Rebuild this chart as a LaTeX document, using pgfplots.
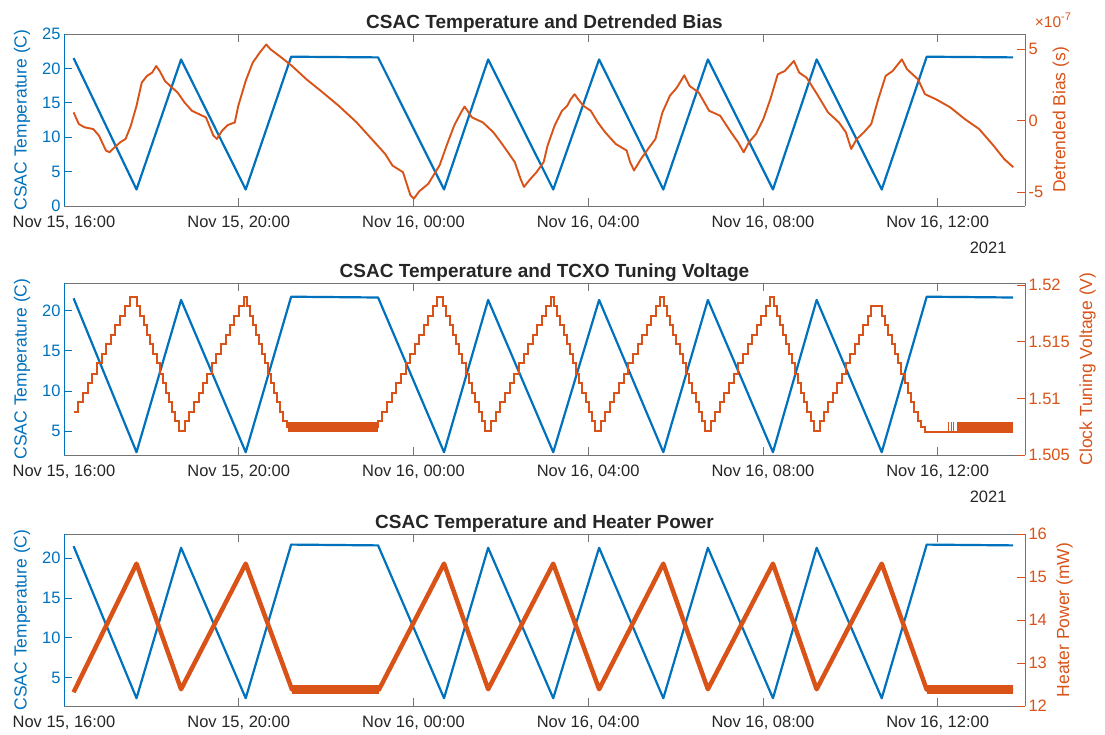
\documentclass[border=0pt]{standalone}
\usepackage{pgfplots}
\pgfplotsset{compat=1.18}
\usepackage{pgfplotstable}
\usepackage{fontspec}
\setmainfont{Liberation Sans}
\definecolor{mblue}{RGB}{0,114,189}
\definecolor{morange}{RGB}{217,83,25}
\definecolor{axgray}{RGB}{115,115,115}
\definecolor{txt}{RGB}{38,38,38}

% CSAC temperature (hours since Nov 15 00:00, deg C)
\pgfplotstableread{
h T
16.22 21.5
17.66 2.4
18.68 21.3
20.16 2.4
21.20 21.7
23.19 21.6
24.70 2.4
25.71 21.3
27.20 2.4
28.25 21.3
29.72 2.4
30.74 21.3
32.23 2.4
33.23 21.3
34.72 2.4
35.75 21.7
37.73 21.6
}\temptable

% Detrended bias (units of 1e-7 s)
\pgfplotstableread{
h b
16.22 0.58
16.34 -0.23
16.47 -0.46
16.67 -0.58
16.80 -1.04
16.96 -2.08
17.04 -2.20
17.16 -1.85
17.29 -1.50
17.41 -1.27
17.53 -0.35
17.66 1.04
17.78 2.66
17.90 3.13
18.02 3.36
18.11 3.82
18.19 3.47
18.31 2.78
18.43 2.43
18.60 1.97
18.76 1.27
18.93 0.69
19.09 0.46
19.25 0.23
19.42 -1.04
19.50 -1.27
19.62 -0.69
19.75 -0.30
19.91 -0.12
19.99 1.04
20.16 2.78
20.32 4.05
20.48 4.75
20.63 5.32
20.73 4.98
20.98 4.40
21.22 3.82
21.55 2.89
21.88 2.08
22.29 1.04
22.70 -0.12
23.11 -1.50
23.35 -2.31
23.52 -3.13
23.76 -3.59
23.93 -5.20
24.01 -5.44
24.13 -4.93
24.34 -4.40
24.60 -3.10
24.76 -1.73
24.93 -0.35
25.09 0.58
25.17 0.99
25.34 0.23
25.59 -0.12
25.83 -0.81
26.00 -1.50
26.16 -2.19
26.32 -2.89
26.45 -4.04
26.53 -4.62
26.65 -4.16
26.82 -3.58
26.98 -2.89
27.07 -1.74
27.23 -0.35
27.40 0.69
27.52 1.04
27.60 1.50
27.69 1.85
27.77 1.50
27.89 1.04
28.06 0.69
28.22 -0.12
28.39 -0.81
28.63 -1.62
28.88 -2.08
28.96 -2.89
29.05 -3.47
29.21 -2.66
29.37 -1.97
29.54 -1.27
29.70 0.58
29.87 1.74
30.03 2.31
30.20 3.17
30.32 2.43
30.53 1.97
30.77 0.69
31.02 0.35
31.27 -0.81
31.43 -1.50
31.56 -2.20
31.68 -1.50
31.84 -0.93
32.01 0.12
32.17 1.50
32.34 3.24
32.50 3.47
32.71 4.17
32.83 3.36
33.00 3.00
33.24 1.85
33.49 0.58
33.74 -0.12
33.90 -0.81
34.02 -1.97
34.15 -1.27
34.31 -0.81
34.48 -0.23
34.64 1.50
34.81 3.13
34.97 3.47
35.18 4.28
35.30 3.59
35.55 2.89
35.71 1.85
35.96 1.50
36.29 0.93
36.62 0.12
36.95 -0.58
37.28 -1.74
37.52 -2.66
37.73 -3.24
}\biastable

% TCXO tuning voltage (V), stepwise
\pgfplotstableread{
h v
16.22 1.5088
16.33 1.5097
16.43 1.5105
16.54 1.5114
16.64 1.5122
16.75 1.5131
16.86 1.5139
16.96 1.5148
17.07 1.5156
17.17 1.5165
17.28 1.5173
17.39 1.5182
17.52 1.5190
17.68 1.5182
17.75 1.5173
17.83 1.5165
17.90 1.5156
17.97 1.5148
18.04 1.5139
18.12 1.5131
18.19 1.5122
18.26 1.5114
18.34 1.5105
18.41 1.5097
18.48 1.5088
18.55 1.5080
18.63 1.5071
18.77 1.5080
18.87 1.5088
18.97 1.5097
19.08 1.5105
19.18 1.5114
19.28 1.5122
19.39 1.5131
19.49 1.5139
19.59 1.5148
19.70 1.5156
19.80 1.5165
19.90 1.5173
20.01 1.5182
20.11 1.5190
20.18 1.5182
20.25 1.5173
20.32 1.5165
20.39 1.5156
20.46 1.5148
20.53 1.5139
20.60 1.5131
20.67 1.5122
20.74 1.5114
20.81 1.5105
20.88 1.5097
20.95 1.5088
21.02 1.5080
21.10 1.5075
23.19 1.5080
23.29 1.5088
23.40 1.5097
23.50 1.5105
23.61 1.5114
23.71 1.5122
23.82 1.5131
23.92 1.5139
24.03 1.5148
24.13 1.5156
24.24 1.5165
24.34 1.5173
24.45 1.5182
24.55 1.5190
24.68 1.5182
24.75 1.5173
24.83 1.5165
24.90 1.5156
24.97 1.5148
25.05 1.5139
25.12 1.5131
25.20 1.5122
25.27 1.5114
25.34 1.5105
25.42 1.5097
25.49 1.5088
25.56 1.5080
25.64 1.5071
25.78 1.5080
25.89 1.5088
25.99 1.5097
26.10 1.5105
26.20 1.5114
26.31 1.5122
26.41 1.5131
26.52 1.5139
26.62 1.5148
26.73 1.5156
26.83 1.5165
26.94 1.5173
27.04 1.5182
27.15 1.5190
27.22 1.5182
27.29 1.5173
27.36 1.5165
27.44 1.5156
27.51 1.5148
27.58 1.5139
27.65 1.5131
27.72 1.5122
27.79 1.5114
27.86 1.5105
27.94 1.5097
28.01 1.5088
28.08 1.5080
28.15 1.5071
28.29 1.5080
28.39 1.5088
28.50 1.5097
28.60 1.5105
28.71 1.5114
28.81 1.5122
28.92 1.5131
29.02 1.5139
29.13 1.5148
29.23 1.5156
29.34 1.5165
29.44 1.5173
29.55 1.5182
29.65 1.5190
29.74 1.5182
29.81 1.5173
29.88 1.5165
29.95 1.5156
30.02 1.5148
30.10 1.5139
30.17 1.5131
30.24 1.5122
30.31 1.5114
30.38 1.5105
30.46 1.5097
30.53 1.5088
30.60 1.5080
30.67 1.5071
30.81 1.5080
30.91 1.5088
31.02 1.5097
31.12 1.5105
31.23 1.5114
31.33 1.5122
31.44 1.5131
31.54 1.5139
31.65 1.5148
31.75 1.5156
31.86 1.5165
31.96 1.5173
32.07 1.5182
32.17 1.5190
32.25 1.5182
32.32 1.5173
32.39 1.5165
32.46 1.5156
32.53 1.5148
32.60 1.5139
32.67 1.5131
32.74 1.5122
32.81 1.5114
32.88 1.5105
32.95 1.5097
33.02 1.5088
33.09 1.5080
33.16 1.5071
33.30 1.5080
33.40 1.5088
33.50 1.5097
33.60 1.5105
33.70 1.5114
33.80 1.5122
33.90 1.5131
34.00 1.5139
34.10 1.5148
34.20 1.5156
34.30 1.5165
34.40 1.5173
34.48 1.5182
34.72 1.5173
34.80 1.5165
34.87 1.5156
34.95 1.5148
35.02 1.5139
35.10 1.5131
35.17 1.5122
35.25 1.5114
35.32 1.5105
35.40 1.5097
35.47 1.5088
35.55 1.5080
35.62 1.5075
35.70 1.5070
37.73 1.5070
}\volttable

% Heater power (mW)
\pgfplotstableread{
h p
16.22 12.32
17.66 15.31
18.68 12.39
20.16 15.31
21.22 12.38
23.21 12.38
24.70 15.31
25.71 12.39
27.20 15.31
28.25 12.39
29.72 15.31
30.74 12.39
32.23 15.31
33.23 12.39
34.72 15.31
35.75 12.38
37.73 12.38
}\powertable

\pgfplotsset{
  base/.style={
    width=961pt, height=172pt, scale only axis,
    xmin=16, xmax=38,
    xtick={16,20,24,28,32,36},
    xticklabels={{Nov 15, 16:00},{Nov 15, 20:00},{Nov 16, 00:00},{Nov 16, 04:00},{Nov 16, 08:00},{Nov 16, 12:00}},
    tick align=inside,
    major tick length=8pt,
    /pgf/number format/assume math mode=true,
    tick label style={font=\fontsize{16.5}{19}\selectfont},
    scaled y ticks=false,
    clip mode=individual,
  },
  leftax/.style={base,
    separate axis lines,
    axis x line*=box,
    axis y line*=left,
    x axis line style={axgray, line width=1pt},
    y axis line style={mblue, line width=1pt},
    xtick style={axgray, line width=0.8pt},
    ytick style={mblue, line width=0.8pt},
    xticklabel style={text=txt, yshift=-6pt},
    yticklabel style={text=mblue},
    every axis y label/.style={at={(axis description cs:-0.0437,0.5)}, anchor=center, rotate=90,
      font=\fontsize{17.5}{20}\selectfont, text=mblue},
    every axis title/.style={at={(axis description cs:0.5,1)}, anchor=base, yshift=6pt,
      font=\fontsize{19}{22}\selectfont\bfseries, text=txt},
    ylabel={CSAC Temperature (C)},
  },
  rightax/.style={base,
    separate axis lines,
    axis x line=none,
    axis y line*=right,
    y axis line style={morange, line width=1pt},
    ytick style={morange, line width=0.8pt},
    yticklabel style={text=morange},
    every axis y label/.style={at={(ticklabel cs:0.5)}, anchor=near ticklabel, rotate=90,
      inner sep=6pt, font=\fontsize{17.5}{20}\selectfont, text=morange},
  },
}

\begin{document}
\begin{tikzpicture}
\useasboundingbox (0,0) rectangle (1105pt,-734pt);

% ---------------- Panel 1 ----------------
\begin{axis}[leftax, at={(64pt,-206pt)}, anchor=south west,
  ymin=0, ymax=25, ytick={0,5,10,15,20,25},
  title={CSAC Temperature and Detrended Bias}]
\addplot[mblue, line width=2.2pt, line join=round] table[x=h,y=T]{\temptable};
\node[anchor=base east, yshift=-47pt, font=\fontsize{16.5}{19}\selectfont, text=txt] at (rel axis cs:0.9844,0) {2021};
\end{axis}
\begin{axis}[rightax, at={(64pt,-206pt)}, anchor=south west,
  ymin=-5.95, ymax=6.05, ytick={-5,0,5},
  ylabel={Detrended Bias (s)}]
\addplot[morange, line width=1.9pt, line join=round] table[x=h,y=b]{\biastable};
\node[anchor=center, font=\fontsize{15.5}{18}\selectfont, text=morange] at (rel axis cs:1.029,1.08) {×10\raisebox{0.45em}{\fontsize{11}{12}\selectfont -7}};
\end{axis}

% ---------------- Panel 2 ----------------
\begin{axis}[leftax, at={(64pt,-455pt)}, anchor=south west,
  ymin=2.05, ymax=23.4, ytick={5,10,15,20},
  title={CSAC Temperature and TCXO Tuning Voltage}]
\addplot[mblue, line width=2.2pt, line join=round] table[x=h,y=T]{\temptable};
\node[anchor=base east, yshift=-47pt, font=\fontsize{16.5}{19}\selectfont, text=txt] at (rel axis cs:0.9844,0) {2021};
\end{axis}
\begin{axis}[rightax, at={(64pt,-455pt)}, anchor=south west,
  ymin=1.505, ymax=1.5202, ytick={1.505,1.51,1.515,1.52},
  yticklabel style={/pgf/number format/.cd, fixed, precision=3},
  ylabel={Clock Tuning Voltage (V)}]
\addplot[morange, line width=2pt, const plot] table[x=h,y=v]{\volttable};
\addplot[morange, line width=10pt] coordinates {(21.12,1.50745) (23.19,1.50745)};
\addplot[morange, line width=10pt] coordinates {(36.45,1.50745) (37.73,1.50745)};
\addplot[morange, line width=1.2pt, unbounded coords=jump] coordinates {
  (36.24,1.5070) (36.24,1.5079) (36.24,nan)
  (36.31,1.5070) (36.31,1.5079) (36.31,nan)
  (36.37,1.5070) (36.37,1.5079)};
\end{axis}

% ---------------- Panel 3 ----------------
\begin{axis}[leftax, at={(64pt,-706pt)}, anchor=south west,
  ymin=1.42, ymax=23.03, ytick={5,10,15,20},
  title={CSAC Temperature and Heater Power}]
\addplot[mblue, line width=2.2pt, line join=round] table[x=h,y=T]{\temptable};
\end{axis}
\begin{axis}[rightax, at={(64pt,-706pt)}, anchor=south west,
  ymin=12, ymax=16, ytick={12,13,14,15,16},
  ylabel={Heater Power (mW)}]
\addplot[morange, line width=4.5pt, line join=round] table[x=h,y=p]{\powertable};
\addplot[morange, line width=9pt] coordinates {(21.22,12.385) (23.21,12.385)};
\addplot[morange, line width=9pt] coordinates {(35.75,12.385) (37.73,12.385)};
\end{axis}
\end{tikzpicture}
\end{document}
